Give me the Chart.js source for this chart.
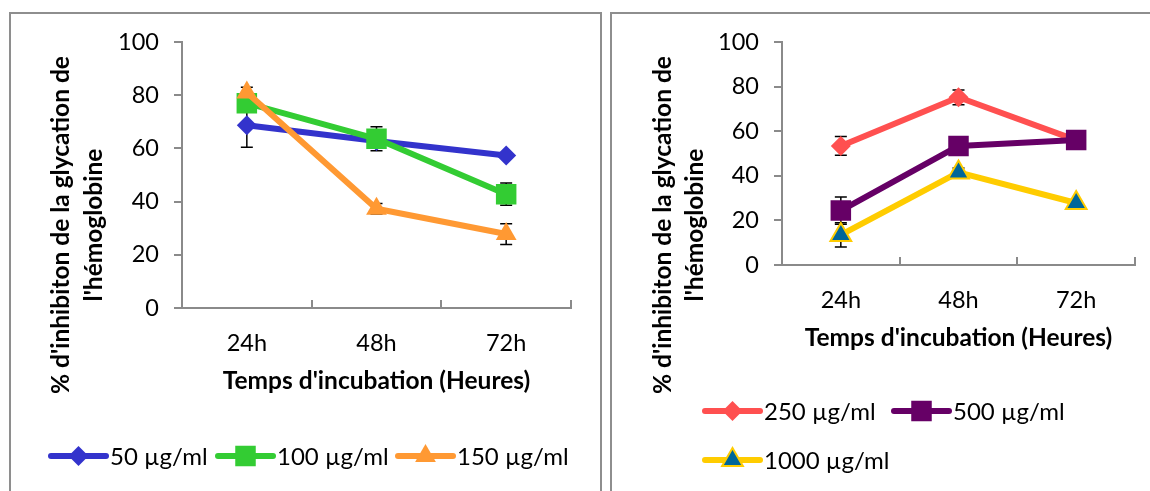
<!DOCTYPE html>
<html>
<head>
<meta charset="utf-8">
<script src="https://cdn.jsdelivr.net/npm/chart.js@4.4.1/dist/chart.umd.min.js"></script>
<style>
body { margin: 0; background: #fff; width: 1150px; height: 491px; overflow: hidden; position: relative; }
.box { position: absolute; border: 2px solid #8e8e8e; }
#boxL { left: 9px; top: 12px; width: 589px; height: 520px; }
#boxR { left: 610px; top: 12px; width: 580px; height: 520px; }
canvas { position: absolute; top: 0; }
#left { left: 0; }
#right { left: 606px; }
</style>
</head>
<body>
<div class="box" id="boxL"></div>
<div class="box" id="boxR"></div>
<canvas id="left" width="606" height="491"></canvas>
<canvas id="right" width="544" height="491"></canvas>
<script>
const categories = ['24h', '48h', '72h'];
const yTitleLines = ["% d'inhibiton de la glycation de", "l'hémoglobine"];
const xTitle = "Temps d'incubation (Heures)";

// panneau gauche
const labelsLeft = ['50 µg/ml', '100 µg/ml', '150 µg/ml'];
const val50 = [68.7, 62.8, 57.3];
const err50 = [8.3, 1, 1];
const val100 = [77, 63.6, 42.8];
const err100 = [2, 4.5, 4.2];
const val150 = [81, 37.3, 27.8];
const err150 = [2, 2, 3.9];

// panneau droit
const labelsRight = ['250 µg/ml', '500 µg/ml', '1000 µg/ml'];
const val250 = [53.4, 75.2, 56];
const err250 = [4.2, 3.3, 1];
const val500 = [24.4, 53.4, 56];
const err500 = [6.1, 1, 1];
const val1000 = [13.5, 41.5, 27.8];
const err1000 = [5.4, 2, 1];

const FONT = 'Lato, "Noto Sans", sans-serif';
const AXIS = '#8a8a8a';

const errorBars = {
  id: 'errorBars',
  beforeDatasetsDraw(chart) {
    const ctx = chart.ctx, xs = chart.scales.x, ys = chart.scales.y;
    ctx.save();
    ctx.strokeStyle = '#000';
    ctx.lineWidth = 1.5;
    chart.data.datasets.forEach(ds => {
      ds.data.forEach((v, i) => {
        const e = ds.errors[i];
        const px = xs.getPixelForValue(i);
        const top = ys.getPixelForValue(v + e), bot = ys.getPixelForValue(v - e);
        ctx.beginPath();
        ctx.moveTo(px, top); ctx.lineTo(px, bot);
        ctx.moveTo(px - 6, top); ctx.lineTo(px + 6, top);
        ctx.moveTo(px - 6, bot); ctx.lineTo(px + 6, bot);
        ctx.stroke();
      });
    });
    ctx.restore();
  }
};

const yTitle = {
  id: 'yTitle',
  afterDraw(chart, args, opts) {
    const ctx = chart.ctx;
    ctx.save();
    ctx.font = 'bold 24.5px ' + FONT;
    ctx.fillStyle = '#000';
    ctx.textAlign = 'center';
    ctx.textBaseline = 'middle';
    yTitleLines.forEach((line, i) => {
      ctx.save();
      ctx.translate(opts.x[i], opts.y);
      ctx.rotate(-Math.PI / 2);
      ctx.fillText(line, 0, 0);
      ctx.restore();
    });
    ctx.restore();
  }
};

const lineLegend = {
  id: 'lineLegend',
  afterDraw(chart, args, opts) {
    const ctx = chart.ctx;
    chart.data.datasets.forEach((ds, i) => {
      const it = opts.items[i];
      const cx = it.x + opts.len / 2;
      ctx.save();
      ctx.lineCap = 'round';
      ctx.strokeStyle = ds.borderColor;
      ctx.lineWidth = ds.borderWidth;
      ctx.beginPath();
      ctx.moveTo(it.x, it.y);
      ctx.lineTo(it.x + opts.len, it.y);
      ctx.stroke();
      ctx.fillStyle = ds.pointBackgroundColor;
      ctx.strokeStyle = ds.pointBorderColor;
      ctx.lineWidth = ds.pointBorderWidth;
      Chart.helpers.drawPoint(ctx, {pointStyle: ds.pointStyle, radius: ds.pointRadius, borderWidth: ds.pointBorderWidth, rotation: 0}, cx, it.y);
      ctx.fillStyle = '#000';
      ctx.font = '24px ' + FONT;
      ctx.textAlign = 'left';
      ctx.textBaseline = 'middle';
      ctx.fillText(ds.label, it.x + opts.len + 4, it.y + 1);
      ctx.restore();
    });
  }
};

function series(label, data, errors, color, style, radius, fill, border, bw, order) {
  return {
    label: label, data: data, errors: errors, order: order,
    borderColor: color, borderWidth: 6, borderCapStyle: 'round', borderJoinStyle: 'round',
    pointStyle: style, pointRadius: radius, pointHoverRadius: radius,
    pointBackgroundColor: fill, pointBorderColor: border, pointBorderWidth: bw,
    tension: 0, fill: false
  };
}

function makeChart(id, datasets, o) {
  return new Chart(document.getElementById(id).getContext('2d'), {
    type: 'line',
    data: { labels: categories, datasets: datasets },
    plugins: [errorBars, yTitle, lineLegend],
    options: {
      responsive: false,
      animation: false,
      layout: { padding: { left: 0, top: 42, right: o.padRight, bottom: o.padBottom } },
      plugins: {
        legend: { display: false },
        tooltip: { enabled: false },
        yTitle: { x: o.titleX, y: 225 },
        lineLegend: { len: 55, items: o.legend }
      },
      scales: {
        x: {
          offset: true,
          afterFit: s => { s.height = o.xHeight; },
          border: { color: AXIS, width: 2 },
          grid: { offset: true, drawOnChartArea: false, tickLength: -8, color: AXIS, lineWidth: 2 },
          ticks: { color: '#000', padding: 29, font: { family: FONT, size: 23.5 } },
          title: { display: true, text: xTitle, color: '#000', padding: 0, font: { family: FONT, size: 24.5, weight: 'bold' } }
        },
        y: {
          min: 0, max: 100,
          afterFit: s => { s.width = o.yWidth; },
          border: { color: AXIS, width: 2 },
          grid: { drawOnChartArea: false, tickLength: 8, color: AXIS, lineWidth: 2 },
          ticks: { stepSize: 20, color: '#000', padding: 15, font: { family: FONT, size: 23.5 } }
        }
      }
    }
  });
}

makeChart('left', [
  series(labelsLeft[0], val50, err50, '#3333cc', 'rectRot', 10, '#3333cc', '#3333cc', 0, 3),
  series(labelsLeft[1], val100, err100, '#33cc33', 'rect', 14.5, '#33cc33', '#33cc33', 0, 2),
  series(labelsLeft[2], val150, err150, '#ff9933', 'triangle', 12, '#ff9933', '#ff9933', 0, 1)
], {
  padRight: 35, padBottom: 95, xHeight: 88, yWidth: 182,
  titleX: [61, 94],
  legend: [{x: 51, y: 456}, {x: 218, y: 456}, {x: 398, y: 456}]
});

makeChart('right', [
  series(labelsRight[0], val250, err250, '#ff5050', 'rectRot', 10, '#ff5050', '#ff5050', 0, 3),
  series(labelsRight[1], val500, err500, '#660066', 'rect', 14.5, '#660066', '#660066', 0, 2),
  series(labelsRight[2], val1000, err1000, '#ffcc00', 'triangle', 12, '#006699', '#ffcc00', 2, 1)
], {
  padRight: 15, padBottom: 138, xHeight: 88, yWidth: 176,
  titleX: [57, 89],
  legend: [{x: 99, y: 411}, {x: 288, y: 411}, {x: 99, y: 460}]
});
</script>
</body>
</html>
